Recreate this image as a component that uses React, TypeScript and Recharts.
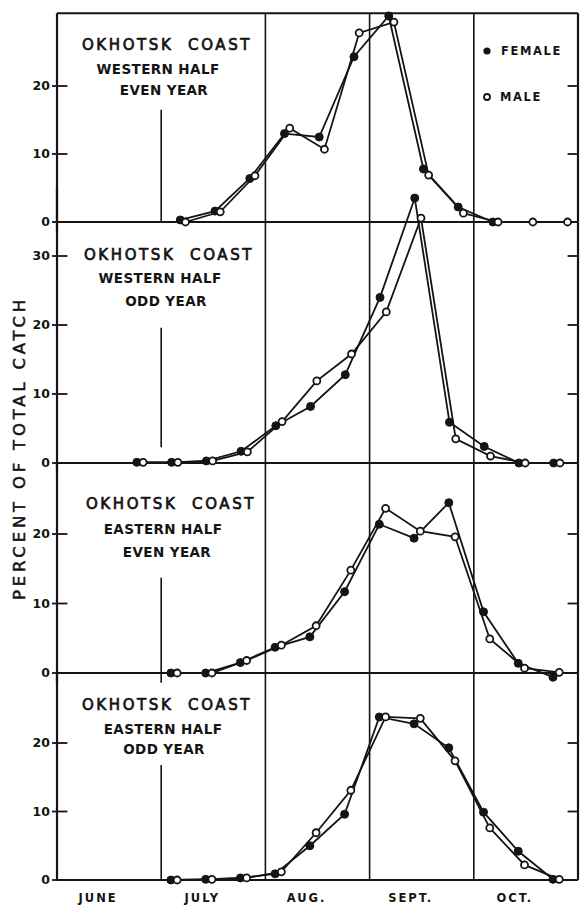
import { LineChart, Line, XAxis, YAxis, ReferenceLine } from 'recharts';

// 10-day periods: 0 = June I ... 14 = Oct. III
const PERIODS = [0, 1, 2, 3, 4, 5, 6, 7, 8, 9, 10, 11, 12, 13, 14];
const MONTHS = ['JUNE', 'JULY', 'AUG.', 'SEPT.', 'OCT.'];
const MONTH_TICKS = [1.5, 4.5, 7.5, 10.5, 13.5];
const MONTH_EDGES = [3, 6, 9, 12];

const westEvenFemale = [null, null, null, 0.3, 1.6, 6.4, 13.0, 12.5, 24.3, 30.3, 7.8, 2.2, 0, null, null];
const westEvenMale = [null, null, null, 0, 1.5, 6.8, 13.8, 10.7, 27.8, 29.4, 6.9, 1.3, 0, 0, 0];

const westOddFemale = [null, null, 0.1, 0.1, 0.3, 1.7, 5.4, 8.2, 12.8, 24.0, 38.4, 5.9, 2.4, 0, 0];
const westOddMale = [null, null, 0.1, 0.1, 0.3, 1.6, 6.0, 11.9, 15.8, 21.9, 35.5, 3.5, 1.0, 0, 0];

const eastEvenFemale = [null, null, null, 0, 0, 1.5, 3.7, 5.2, 11.7, 21.4, 19.4, 24.5, 8.8, 1.4, -0.6];
const eastEvenMale = [null, null, null, 0, 0, 1.8, 4.0, 6.8, 14.8, 23.7, 20.4, 19.6, 4.9, 0.7, 0.1];

const eastOddFemale = [null, null, null, 0, 0.1, 0.3, 0.9, 5.0, 9.6, 23.8, 22.8, 19.3, 9.9, 4.2, 0.1];
const eastOddMale = [null, null, null, 0, 0.1, 0.3, 1.2, 6.9, 13.1, 23.8, 23.6, 17.4, 7.6, 2.2, 0.1];

const FONT = '"DejaVu Sans", sans-serif';
const INK = '#141414';
const W = 583;
const H = 906;

const rows = (f: (number | null)[], m: (number | null)[]) =>
  PERIODS.map((k, i) => ({ k, female: f[i], male: m[i] }));

const PANELS = [
  {
    lines: ['OKHOTSK  COAST', 'WESTERN HALF', 'EVEN YEAR'],
    tx: [167, 158, 164], ty: [45, 69, 90],
    data: rows(westEvenFemale, westEvenMale),
    y0: 222, ppu: 6.8, lo: -1.5, hi: 30.7, ticks: [0, 10, 20], rTicks: [10, 20],
    july: [0, 16.5], top: 30.7, fShift: 0.05, mShift: 0.2, frameTop: true,
  },
  {
    lines: ['OKHOTSK  COAST', 'WESTERN HALF', 'ODD YEAR'],
    tx: [169, 160, 166], ty: [255, 278, 301],
    data: rows(westOddFemale, westOddMale),
    y0: 463, ppu: 6.9, lo: -1.5, hi: 40, ticks: [0, 10, 20, 30], rTicks: [10, 20, 30],
    july: [2.3, 19.6], top: 34.9, fShift: -0.2, mShift: -0.02, frameTop: false,
  },
  {
    lines: ['OKHOTSK  COAST', 'EASTERN HALF', 'EVEN YEAR'],
    tx: [171, 163, 167], ty: [504, 529, 552],
    data: rows(eastEvenFemale, eastEvenMale),
    y0: 673, ppu: 6.95, lo: -1.5, hi: 30.2, ticks: [0, 10, 20], rTicks: [10, 20],
    july: [-1.4, 13.7], top: 30.2, fShift: -0.22, mShift: -0.04, frameTop: false,
  },
  {
    lines: ['OKHOTSK  COAST', 'EASTERN HALF', 'ODD YEAR'],
    tx: [167, 163, 164], ty: [705, 729, 749],
    data: rows(eastOddFemale, eastOddMale),
    y0: 880, ppu: 6.85, lo: 0, hi: 30.2, ticks: [0, 10, 20], rTicks: [10, 20],
    july: [0, 16.8], top: 30.2, fShift: -0.22, mShift: -0.04, frameTop: false,
  },
];

function Panel({ p, last }: { p: (typeof PANELS)[number]; last: boolean }) {
  const xh = last ? 20 : 0;
  const top = p.y0 - p.hi * p.ppu;
  const bottom = H - (p.y0 - p.lo * p.ppu) - xh;
  const frameHi = p.frameTop ? p.hi : p.top;
  return (
    <div style={{ position: 'absolute', left: 0, top: 0 }}>
      <LineChart width={W} height={H} data={p.data} margin={{ top, bottom, left: 17, right: 5 }}>
        <XAxis
          xAxisId="base"
          dataKey="k"
          type="number"
          domain={[0, 15]}
          hide={!last}
          height={xh}
          ticks={MONTH_TICKS}
          tickFormatter={(v: number) => MONTHS[Math.floor(v / 3)]}
          tickLine={false}
          tickMargin={8}
          axisLine={{ stroke: INK, strokeWidth: 2 }}
          tick={{ fontSize: 11.5, fontWeight: 700, fill: INK, dx: -11, letterSpacing: 2 }}
        />
        <XAxis xAxisId="f" dataKey="k" type="number" hide domain={[-0.5 - p.fShift, 14.5 - p.fShift]} />
        <XAxis xAxisId="m" dataKey="k" type="number" hide domain={[-0.5 - p.mShift, 14.5 - p.mShift]} />
        <YAxis
          yAxisId="L"
          width={40}
          type="number"
          domain={[p.lo, p.hi]}
          ticks={p.ticks}
          tickSize={5}
          tickMargin={2}
          tickLine={{ stroke: INK, strokeWidth: 1.8 }}
          axisLine={{ stroke: INK, strokeWidth: 2.2 }}
          tick={{ fontSize: 12.5, fontWeight: 700, fill: INK }}
        />
        <ReferenceLine xAxisId="base" yAxisId="L" y={0} stroke={INK} strokeWidth={1.8} />
        {p.frameTop && <ReferenceLine xAxisId="base" yAxisId="L" y={p.hi} stroke={INK} strokeWidth={2.2} />}
        <ReferenceLine
          xAxisId="base"
          yAxisId="L"
          ifOverflow="visible"
          segment={[{ x: 15, y: 0 }, { x: 15, y: frameHi }]}
          stroke={INK}
          strokeWidth={2.2}
        />
        {p.ticks.map((t) => (
          <ReferenceLine
            key={`l${t}`}
            xAxisId="base"
            yAxisId="L"
            ifOverflow="visible"
            segment={[{ x: 0, y: t }, { x: 0.3, y: t }]}
            stroke={INK}
            strokeWidth={1.8}
          />
        ))}
        {p.rTicks.map((t) => (
          <ReferenceLine
            key={`r${t}`}
            xAxisId="base"
            yAxisId="L"
            ifOverflow="visible"
            segment={[{ x: 14.7, y: t }, { x: 15, y: t }]}
            stroke={INK}
            strokeWidth={1.8}
          />
        ))}
        {MONTH_EDGES.map((e) => {
          const seg = e === 3 ? p.july : [0, p.top];
          return (
            <ReferenceLine
              key={e}
              xAxisId="base"
              yAxisId="L"
              ifOverflow="visible"
              segment={[{ x: e, y: seg[0] }, { x: e, y: seg[1] }]}
              stroke={INK}
              strokeWidth={1.6}
            />
          );
        })}
        <Line
          xAxisId="f"
          yAxisId="L"
          dataKey="female"
          stroke={INK}
          strokeWidth={1.8}
          dot={{ r: 4, fill: INK, stroke: INK, strokeWidth: 1 }}
          isAnimationActive={false}
        />
        <Line
          xAxisId="m"
          yAxisId="L"
          dataKey="male"
          stroke={INK}
          strokeWidth={1.8}
          dot={{ r: 3.5, fill: '#fff', stroke: INK, strokeWidth: 1.8 }}
          isAnimationActive={false}
        />
      </LineChart>
    </div>
  );
}

export default function App() {
  return (
    <div style={{ position: 'absolute', left: 0, top: 0, width: W, height: H, background: '#fff', fontFamily: FONT }}>
      {PANELS.map((p, i) => (
        <Panel key={i} p={p} last={i === PANELS.length - 1} />
      ))}
      <svg width={W} height={H} style={{ position: 'absolute', left: 0, top: 0, pointerEvents: 'none' }}>
        {PANELS.map((p, i) => (
          <g key={i} fill={INK} fontFamily={FONT}>
            <text x={p.tx[0]} y={p.ty[0]} textAnchor="middle" dominantBaseline="central" fontSize={15} letterSpacing={2.6} stroke={INK} strokeWidth={0.7} style={{ whiteSpace: 'pre' }}>
              {p.lines[0]}
            </text>
            <text x={p.tx[1]} y={p.ty[1]} textAnchor="middle" dominantBaseline="central" fontSize={13.5} fontWeight={700} letterSpacing={0.4}>
              {p.lines[1]}
            </text>
            <text x={p.tx[2]} y={p.ty[2]} textAnchor="middle" dominantBaseline="central" fontSize={13.5} fontWeight={700} letterSpacing={0.4}>
              {p.lines[2]}
            </text>
          </g>
        ))}
        <g fill={INK} fontFamily={FONT} fontWeight={700} fontSize={11.5} letterSpacing={1.6}>
          <circle cx={487} cy={51} r={3.6} fill={INK} />
          <text x={501} y={51} dominantBaseline="central">FEMALE</text>
          <circle cx={487} cy={97} r={3} fill="#fff" stroke={INK} strokeWidth={1.8} />
          <text x={500} y={97} dominantBaseline="central">MALE</text>
        </g>
        <text
          x={19}
          y={448}
          transform="rotate(-90 19 448)"
          textAnchor="middle"
          dominantBaseline="central"
          fontFamily={FONT}
          fontSize={16.5}
          letterSpacing={3.8}
          fill={INK}
          stroke={INK}
          strokeWidth={0.5}
          style={{ whiteSpace: 'pre' }}
        >
          PERCENT OF TOTAL CATCH
        </text>
      </svg>
    </div>
  );
}
